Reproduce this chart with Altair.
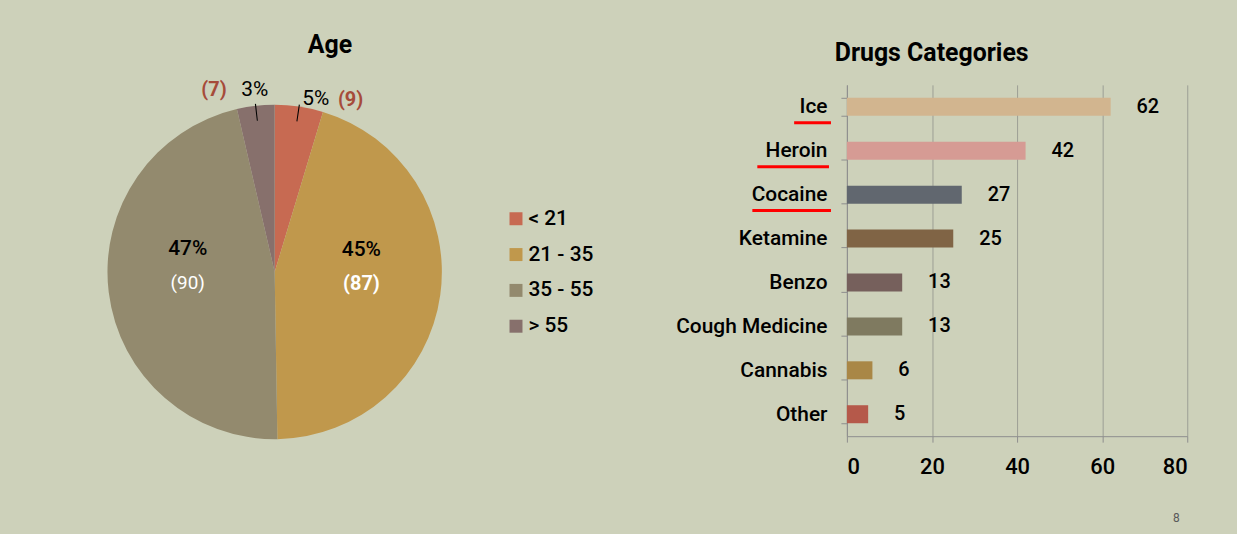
import math
import altair as alt
import pandas as pd

# ---------------- data ----------------
age_groups = ["< 21", "21 - 35", "35 - 55", "> 55"]
age_counts = [9, 87, 90, 7]
age_pct = ["5%", "45%", "47%", "3%"]
age_colors = ["#C76A52", "#C0984C", "#938A6E", "#87706C"]

drugs = ["Ice", "Heroin", "Cocaine", "Ketamine", "Benzo", "Cough Medicine", "Cannabis", "Other"]
drug_counts = [62, 42, 27, 25, 13, 13, 6, 5]
drug_colors = ["#D2B58F", "#D69B94", "#61676F", "#806445", "#76605C", "#7F7A60", "#A98746", "#B5594A"]
x_ticks = [0, 20, 40, 60, 80]

BG = "#CDD1BA"
FONT = "Roboto, Liberation Sans, sans-serif"

# ---------------- pie ----------------
total = sum(age_counts)
starts, ends = [], []
acc = 0
for c in age_counts:
    starts.append(acc)
    acc += c
    ends.append(acc)
pie_df = pd.DataFrame({
    "group": age_groups,
    "count": age_counts,
    "pct": age_pct,
    "start": starts,
    "end": ends,
})
pie_df["mid"] = (pie_df["start"] + pie_df["end"]) / 2
pie_df["count_label"] = ["(" + str(c) + ")" for c in age_counts]

theta_scale = alt.Scale(domain=[0, total], range=[0, 2 * math.pi])
pbase = alt.Chart(pie_df)

arcs = pbase.mark_arc(outerRadius=168).encode(
    theta=alt.Theta("start:Q", scale=theta_scale, stack=None),
    theta2="end:Q",
    color=alt.Color(
        "group:N",
        scale=alt.Scale(domain=age_groups, range=age_colors),
        legend=alt.Legend(
            title=None, orient="none", legendX=508, legendY=124,
            symbolType="square", symbolSize=170, symbolStrokeWidth=0,
            labelFontSize=21, labelFont=FONT, labelFontWeight=500, labelColor="black",
            rowPadding=14, labelOffset=2,
        ),
    ),
)

big = ["21 - 35", "35 - 55"]
small = ["< 21", "> 55"]

def theta_mid():
    return alt.Theta("mid:Q", scale=theta_scale, stack=None)

in_pct = pbase.transform_filter(alt.FieldOneOfPredicate(field="group", oneOf=big)).mark_text(
    radius=88, dy=-34, fontSize=21, font=FONT, color="black", fontWeight=500
).encode(theta=theta_mid(), text="pct:N")

in_cnt_90 = pbase.transform_filter(alt.datum.group == "35 - 55").mark_text(
    radius=88, fontSize=19, font=FONT, color="white"
).encode(theta=theta_mid(), text="count_label:N")

in_cnt_87 = pbase.transform_filter(alt.datum.group == "21 - 35").mark_text(
    radius=88, fontSize=20, font=FONT, color="white", fontWeight="bold"
).encode(theta=theta_mid(), text="count_label:N")

out5 = pbase.transform_filter(alt.datum.group == "< 21")
pct5 = out5.mark_text(radius=180, dx=15, dy=4, fontSize=21, font=FONT, color="black").encode(
    theta=theta_mid(), text="pct:N")
cnt9 = out5.mark_text(radius=180, dx=50, dy=5, fontSize=20, font=FONT, color="#A64B3A",
                      fontWeight="bold").encode(theta=theta_mid(), text="count_label:N")

out3 = pbase.transform_filter(alt.datum.group == "> 55")
pct3 = out3.mark_text(radius=184, dx=1, fontSize=21, font=FONT, color="black").encode(
    theta=theta_mid(), text="pct:N")
cnt7 = out3.mark_text(radius=184, dx=-40, fontSize=20, font=FONT, color="#A64B3A",
                      fontWeight="bold").encode(theta=theta_mid(), text="count_label:N")

leaders = pbase.transform_filter(alt.FieldOneOfPredicate(field="group", oneOf=small)).transform_calculate(
    la="datum.mid - 0.1", lb="datum.mid + 0.1"
).mark_arc(innerRadius=153, outerRadius=170, color="black").encode(
    theta=alt.Theta("la:Q", scale=theta_scale, stack=None), theta2="lb:Q"
)

pie = alt.layer(arcs, leaders, in_pct, in_cnt_90, in_cnt_87, pct5, cnt9, pct3, cnt7).properties(
    width=552, height=376,
    title=alt.TitleParams("Age", fontSize=25, font=FONT, fontWeight="bold", color="black",
                          anchor="middle", frame="bounds", offset=21, dx=33),
)

# ---------------- bars ----------------
bar_df = pd.DataFrame({"drug": drugs, "count": drug_counts, "color": drug_colors})
bbase = alt.Chart(bar_df)

y_enc = alt.Y(
    "drug:N", sort=drugs,
    scale=alt.Scale(paddingInner=0.59, paddingOuter=0.295),
    axis=alt.Axis(title=None, labelFontSize=21, labelFont=FONT, labelFontWeight=500, labelColor="black",
                  labelPadding=14, tickBand="extent", tickSize=6, tickColor="#8E8E8E",
                  domainColor="#8E8E8E", grid=False),
)
x_enc = alt.X(
    "count:Q",
    scale=alt.Scale(domain=[0, 80], nice=False),
    axis=alt.Axis(title=None, values=x_ticks, labelFontSize=22, labelFont=FONT, labelFontWeight=500,
                  labelColor="black",
                  labelPadding=14, tickSize=6, tickColor="#8E8E8E", domainColor="#8E8E8E",
                  grid=True, gridColor="#9C9E95", gridWidth=1),
)

bars = bbase.mark_bar().encode(x=x_enc, y=y_enc, color=alt.Color("color:N", scale=None))
vals = bbase.mark_text(align="left", dx=26, fontSize=20, font=FONT, fontWeight=500, color="black").encode(
    x="count:Q", y=alt.Y("drug:N", sort=drugs), text="count:Q")

def underline(name, x0, x1):
    return bbase.transform_filter(alt.datum.drug == name).mark_rule(color="#FF0000", strokeWidth=3).encode(
        y=alt.Y("drug:N", sort=drugs), yOffset=alt.value(25),
        x=alt.value(x0), x2=alt.value(x1))

ul_ice = underline("Ice", -53, -16)
ul_her = underline("Heroin", -90, -18)
ul_coc = underline("Cocaine", -95, -16)

page = bbase.transform_filter(alt.datum.drug == "Ice").transform_calculate(pg="'8'").mark_text(
    fontSize=12, font=FONT, color="#5A5A5A"
).encode(x=alt.value(331), y=alt.value(435), text="pg:N")

bar_chart = alt.layer(bars, vals, ul_ice, ul_her, ul_coc, page).properties(
    width=342, height=353,
    title=alt.TitleParams("Drugs Categories", fontSize=25, font=FONT, fontWeight="bold", color="black",
                          anchor="middle", frame="bounds", offset=8),
)

chart = alt.hconcat(pie, bar_chart, spacing=81).resolve_scale(color="independent").properties(
    padding={"left": 0, "top": 32, "right": 49, "bottom": 12},
).configure(background=BG).configure_view(stroke=None)

chart.save("out.html", embed_options={"renderer": "svg", "actions": False})
